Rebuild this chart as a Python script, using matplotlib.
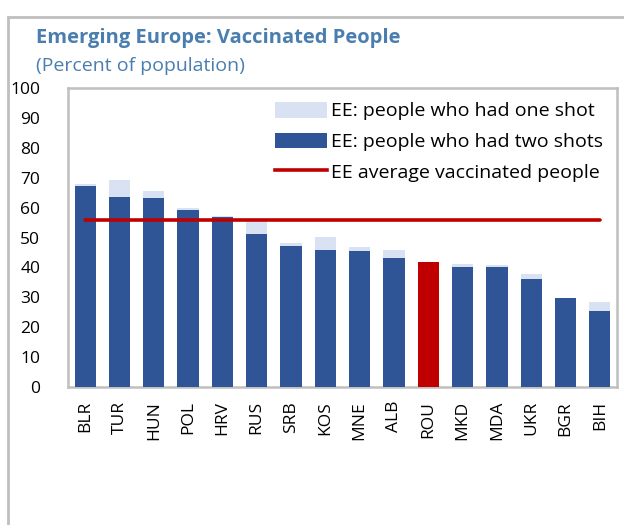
import matplotlib
matplotlib.use("Agg")
import matplotlib.pyplot as plt
from matplotlib.patches import Rectangle, Patch
from matplotlib.lines import Line2D
import numpy as np

plt.rcParams["font.family"] = ["Open Sans", "DejaVu Sans"]

# dados
paises = ["BLR", "TUR", "HUN", "POL", "HRV", "RUS", "SRB", "KOS",
          "MNE", "ALB", "ROU", "MKD", "MDA", "UKR", "BGR", "BIH"]
uma_dose = [68.0, 69.1, 65.5, 59.7, 57.2, 55.4, 48.3, 50.3,
            46.7, 45.9, 41.7, 41.2, 40.8, 37.8, 29.9, 28.5]
duas_doses = [67.1, 63.4, 63.2, 59.2, 56.8, 51.1, 47.0, 45.7,
              45.4, 43.1, 41.7, 40.3, 40.0, 36.2, 29.6, 25.5]
media_ee = [55.9] * len(paises)

COR_ESCURA = "#2F5597"
COR_CLARA = "#D9E2F3"
COR_VERMELHA = "#C00000"
COR_TITULO = "#4A7EAF"
COR_MOLDURA = "#BFBFBF"

fig = plt.figure(figsize=(6.24, 5.25), dpi=100)
W, H = 624, 525

# moldura externa (sai pela direita e por baixo)
fig.patches.append(Rectangle((8 / W, -0.1), 1.2, (H - 17) / H + 0.1,
                             transform=fig.transFigure, fill=False,
                             edgecolor=COR_MOLDURA, linewidth=2))

fig.text(36 / W, 1 - 38 / H, "Emerging Europe: Vaccinated People",
         fontsize=14.5, fontweight="bold", color=COR_TITULO, va="center")
fig.text(36 / W, 1 - 66 / H, "(Percent of population)",
         fontsize=14, color=COR_TITULO, va="center")

ax = fig.add_axes([68 / W, 1 - 387 / H, (617 - 68) / W, (387 - 88) / H])
x = np.arange(len(paises))
cores = [COR_VERMELHA if p == "ROU" else COR_ESCURA for p in paises]

ax.bar(x, uma_dose, width=0.62, color=COR_CLARA, zorder=2)
ax.bar(x, duas_doses, width=0.62, color=cores, zorder=3)
ax.plot(x, media_ee, color=COR_VERMELHA, linewidth=2.6, zorder=4,
        solid_capstyle="round")

ax.set_xlim(-0.5, len(paises) - 0.5)
ax.set_ylim(0, 100)
ax.set_yticks(range(0, 101, 10))
ax.set_xticks(x)
ax.set_xticklabels(paises, rotation=90)
ax.tick_params(axis="both", length=0, labelsize=12.5, colors="black")
ax.tick_params(axis="y", pad=20)
ax.tick_params(axis="x", pad=10)
for s in ax.spines.values():
    s.set_color(COR_MOLDURA)
    s.set_linewidth(1.8)

handles = [Patch(facecolor=COR_CLARA), Patch(facecolor=COR_ESCURA),
           Line2D([0], [0], color=COR_VERMELHA, linewidth=2.6)]
labels = ["EE: people who had one shot", "EE: people who had two shots",
          "EE average vaccinated people"]
ax.legend(handles, labels, loc="upper right", frameon=False, fontsize=14,
          handlelength=2.7, handleheight=0.85, handletextpad=0.2,
          labelspacing=0.62, borderaxespad=0.0, borderpad=0.0,
          bbox_to_anchor=((603 - 68) / (617 - 68), (387 - 102) / (387 - 88)))

fig.savefig("out.png", dpi=100)
